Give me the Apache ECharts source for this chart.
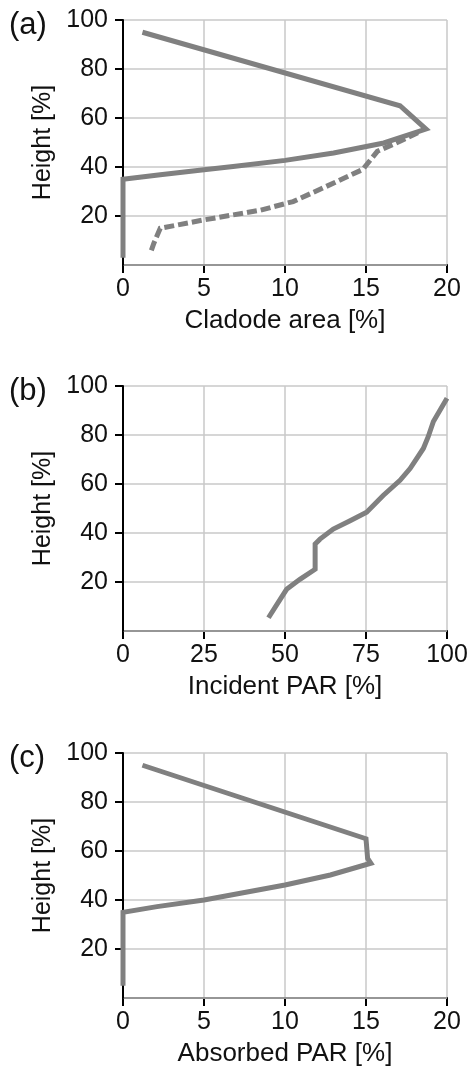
<!DOCTYPE html>
<html>
<head>
<meta charset="utf-8">
<script src="https://cdn.jsdelivr.net/npm/echarts@6/dist/echarts.min.js"></script>
<style>
html,body{margin:0;padding:0;background:#fff;}
#c{width:472px;height:1073px;}
</style>
</head>
<body>
<div id="c"></div>
<script>
// Panel (a): cladode area
const cladodeSolidX = [1.2, 17.1, 18.7, 16.1, 13.0, 10.0, 6.8, 5.0, 2.3, 0, 0];
const cladodeSolidH = [95, 65, 55.5, 49.8, 45.7, 42.7, 40.2, 38.9, 36.8, 35, 3];
const cladodeDashX = [18.2, 17.1, 15.7, 14.8, 12.2, 10.5, 8.5, 4.9, 2.3, 1.9, 1.7];
const cladodeDashH = [54, 50.5, 46.4, 39, 31, 25.9, 22.4, 18.3, 15, 8.8, 5];
// Panel (b): incident PAR
const incidentX = [100, 95.8, 94.2, 92.7, 88.6, 85.5, 80.3, 75.2, 70.1, 64.9, 60.8, 59.3, 59.3, 54.6, 50.5, 48.5, 44.9];
const incidentH = [95, 85.5, 79.3, 74.5, 66.3, 61.5, 55.3, 48.5, 45, 41.6, 37.5, 35.5, 25.2, 21.1, 17, 12.9, 5.4];
// Panel (c): absorbed PAR
const absorbedX = [1.2, 15.0, 15.1, 15.3, 12.8, 10.0, 5.0, 2.1, 0, 0];
const absorbedH = [95, 65, 57, 55, 50.2, 46.1, 40, 37.3, 35, 5];

const xTicksA = [0, 5, 10, 15, 20];
const xTicksB = [0, 25, 50, 75, 100];
const yTicks = [0, 20, 40, 60, 80, 100];
const xNames = ['Cladode area [%]', 'Incident PAR [%]', 'Absorbed PAR [%]'];
const panelLabels = ['(a)', '(b)', '(c)'];
const yName = 'Height [%]';

const pairs = (xs, hs) => xs.map((x, i) => [x, hs[i]]);
const FONT = '"Liberation Sans", Arial, Helvetica, sans-serif';
const TXT = '#111111';
const LINE = '#808080';

const gridTops = [20, 386, 753];
const gridH = 245;

function xAxisDef(i, ticks) {
  return {
    type: 'value', gridIndex: i,
    min: ticks[0], max: ticks[ticks.length - 1], interval: ticks[1] - ticks[0],
    name: xNames[i], nameLocation: 'middle', nameGap: 43,
    nameTextStyle: {fontFamily: FONT, fontSize: 26, color: TXT},
    axisLine: {onZero: false, lineStyle: {color: '#000', width: 2}},
    axisTick: {length: 8, lineStyle: {color: '#000', width: 2}},
    axisLabel: {fontFamily: FONT, fontSize: 25, color: TXT, margin: 12},
    splitLine: {show: true, lineStyle: {color: '#c8c8c8', width: 1.5}}
  };
}
function yAxisDef(i) {
  return {
    type: 'value', gridIndex: i, z: 3,
    min: yTicks[0], max: yTicks[yTicks.length - 1], interval: yTicks[1] - yTicks[0],
    name: yName, nameLocation: 'middle', nameGap: 67,
    nameTextStyle: {fontFamily: FONT, fontSize: 25, color: TXT},
    axisLine: {show: true, onZero: false, lineStyle: {color: '#000', width: 2}},
    axisTick: {show: true, length: 8, lineStyle: {color: '#000', width: 2}},
    axisLabel: {fontFamily: FONT, fontSize: 25, color: TXT, margin: 15, showMinLabel: false},
    splitLine: {show: true, lineStyle: {color: '#c8c8c8', width: 1.5}}
  };
}
function lineSeries(i, data, dashed) {
  return {
    type: 'line', xAxisIndex: i, yAxisIndex: i, data: data,
    symbol: 'none', animation: false, clip: true,
    lineStyle: {color: LINE, width: 5, type: dashed ? [10, 4] : 'solid', cap: 'butt', join: 'miter'}
  };
}

const chart = echarts.init(document.getElementById('c'), null, {renderer: 'canvas'});
chart.setOption({
  animation: false,
  backgroundColor: '#fff',
  grid: gridTops.map(t => ({left: 123, width: 324, top: t, height: gridH})),
  xAxis: [xAxisDef(0, xTicksA), xAxisDef(1, xTicksB), xAxisDef(2, xTicksA)],
  yAxis: [yAxisDef(0), yAxisDef(1), yAxisDef(2)],
  series: [
    lineSeries(0, pairs(cladodeDashX, cladodeDashH), true),
    lineSeries(0, pairs(cladodeSolidX, cladodeSolidH), false),
    lineSeries(1, pairs(incidentX, incidentH), false),
    lineSeries(2, pairs(absorbedX, absorbedH), false)
  ],
  graphic: panelLabels.map((t, i) => ({
    type: 'text', left: 9, top: gridTops[i] - 10,
    style: {text: t, fontFamily: FONT, fontSize: 31, fill: TXT}
  }))
});
</script>
</body>
</html>
